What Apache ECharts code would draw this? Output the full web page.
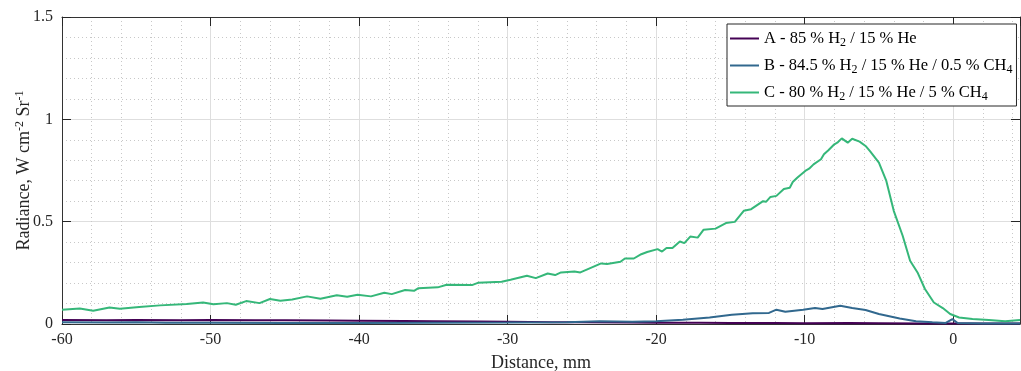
<!DOCTYPE html>
<html>
<head>
<meta charset="utf-8">
<script src="https://cdn.jsdelivr.net/npm/echarts@6/dist/echarts.min.js"></script>
<style>html,body{margin:0;padding:0;background:#fff}#c{width:1021px;height:371px}</style>
</head>
<body>
<div id="c"></div>
<script>
// ---- data ----
const seriesNames = ['A - 85 % H2 / 15 % He', 'B - 84.5 % H2 / 15 % He / 0.5 % CH4', 'C - 80 % H2 / 15 % He / 5 % CH4'];
const xTicks = [-60, -50, -40, -30, -20, -10, 0];
const yTicks = [0, 0.5, 1, 1.5];

const aX = [-60, -57, -55, -52, -50, -47, -45, -42, -40, -37, -35, -32, -30, -27, -25, -22, -20, -17, -15, -12, -10, -7, -5, -2, 0, 2, 4.5];
const aY = [0.019, 0.018, 0.019, 0.018, 0.019, 0.018, 0.018, 0.017, 0.016, 0.015, 0.014, 0.012, 0.011, 0.009, 0.008, 0.007, 0.006, 0.006, 0.005, 0.005, 0.004, 0.005, 0.004, 0.003, 0.003, 0.003, 0.003];

const bX = [-60, -57, -55, -53, -50, -45, -40, -35, -30, -26, -23.8, -21.6, -20, -18.2, -16.4, -14.9, -13.5, -12.4, -11.9, -11.3, -10.1, -9.3, -8.8, -7.6, -6.8, -5.9, -5, -3.6, -2.5, -1.4, -0.5, -0.05, 0.3, 2, 4.5];
const bY = [0.008, 0.007, 0.009, 0.006, 0.006, 0.005, 0.005, 0.006, 0.007, 0.009, 0.013, 0.011, 0.013, 0.021, 0.032, 0.045, 0.052, 0.054, 0.070, 0.060, 0.070, 0.078, 0.073, 0.089, 0.078, 0.068, 0.049, 0.027, 0.013, 0.008, 0.005, 0.024, 0.005, 0.003, 0.003];

const cX = [-60, -58.8, -57.9, -56.8, -56.1, -54.8, -53.4, -51.6, -50.5, -49.8, -48.9, -48.3, -47.6, -46.7, -46.0, -45.3, -44.5, -43.5, -42.6, -41.5, -40.8, -40.1,
  -39.2, -38.3, -37.8, -36.9, -36.3, -36.0, -34.7, -34.1, -32.4, -32.0, -30.4, -29.8, -28.7, -28.1, -27.3, -26.8, -26.4, -25.5, -25.1, -23.7, -23.3, -22.4, -22.1, -21.5, -21.0, -20.6,
  -19.9, -19.6, -19.3, -18.9, -18.4, -18.1, -17.7, -17.2, -16.8, -16.0, -15.3, -14.7, -14.1, -13.6, -12.8, -12.6, -12.3, -11.9, -11.4, -11.0, -10.8, -10.5, -9.9, -9.7, -9.4, -8.9, -8.7, -8.4, -8.0, -7.8, -7.5,
  -7.1, -6.8, -6.3, -5.9, -5.6, -5.0, -4.5, -4.0, -3.4, -2.9, -2.4, -1.9, -1.3, -0.7, -0.2, 0.4, 1.3, 2.4, 3.5, 4.5];
const cY = [0.070, 0.076, 0.065, 0.081, 0.075, 0.083, 0.091, 0.098, 0.105, 0.096, 0.102, 0.094, 0.112, 0.102, 0.122, 0.114, 0.120, 0.135, 0.123, 0.140, 0.133, 0.143,
  0.135, 0.153, 0.146, 0.166, 0.162, 0.175, 0.179, 0.192, 0.190, 0.201, 0.206, 0.216, 0.236, 0.224, 0.247, 0.239, 0.252, 0.257, 0.252, 0.296, 0.293, 0.304, 0.320, 0.320, 0.341, 0.352,
  0.366, 0.354, 0.371, 0.371, 0.403, 0.395, 0.427, 0.422, 0.461, 0.466, 0.493, 0.499, 0.553, 0.561, 0.600, 0.597, 0.621, 0.626, 0.660, 0.666, 0.694, 0.715, 0.751, 0.759, 0.780, 0.805, 0.829, 0.849, 0.878, 0.886, 0.907,
  0.886, 0.905, 0.891, 0.870, 0.845, 0.788, 0.699, 0.553, 0.431, 0.309, 0.252, 0.171, 0.105, 0.078, 0.049, 0.032, 0.024, 0.020, 0.013, 0.020];

const colors = ['#440154', '#31688e', '#35b779'];
// ---- chart ----
const zip = (xs, ys) => xs.map((x, i) => [x, ys[i]]);
const font = 'Liberation Serif';
const chart = echarts.init(document.getElementById('c'), null, {renderer: 'canvas'});

function legendFmt(name) {
  return name.replace(/H2/g, 'H{sub|2}').replace(/CH4/g, 'CH{sub|4}');
}

const axisCommon = {
  axisLine: {show: true, onZero: false, lineStyle: {color: '#333', width: 1}},
  axisTick: {show: true, inside: true, length: 9, lineStyle: {color: '#262626'}},
};

chart.setOption({
  animation: false,
  backgroundColor: '#fff',
  color: colors,
  grid: {left: 62, right: 1, top: 17, bottom: 47, containLabel: false, outerBoundsMode: 'none'},
  legend: {
    left: 727, top: 24,
    orient: 'vertical',
    icon: 'rect',
    itemWidth: 29, itemHeight: 2, itemGap: 6,
    padding: [4, 4, 3, 3],
    borderColor: '#262626', borderWidth: 1, backgroundColor: '#fff',
    data: seriesNames,
    formatter: legendFmt,
    textStyle: {
      fontFamily: font, fontSize: 16.5, color: '#000', lineHeight: 21,
      rich: {sub: {fontFamily: font, fontSize: 12, color: '#000', padding: [9, 0, 0, 0]}}
    }
  },
  xAxis: [{
    type: 'value', min: xTicks[0], max: 4.5, interval: 10, position: 'bottom',
    ...axisCommon,
    axisLabel: {fontFamily: font, fontSize: 16, color: '#262626', margin: 8, showMaxLabel: false},
    splitLine: {show: true, lineStyle: {color: '#dedede', width: 1}},
    minorTick: {show: false, splitNumber: 5},
    minorSplitLine: {show: true, lineStyle: {color: '#c8c8c8', width: 1, type: [1, 3]}},
    name: 'Distance, mm', nameLocation: 'middle', nameGap: 30, nameMoveOverlap: false,
    nameTextStyle: {fontFamily: font, fontSize: 18, color: '#262626'}
  }, {
    type: 'value', min: xTicks[0], max: 4.5, interval: 10, position: 'top',
    ...axisCommon,
    axisLabel: {show: false}, splitLine: {show: false}
  }],
  yAxis: [{
    type: 'value', min: yTicks[0], max: yTicks[yTicks.length - 1], interval: 0.5, position: 'left',
    ...axisCommon,
    axisLabel: {fontFamily: font, fontSize: 16, color: '#262626', margin: 9},
    splitLine: {show: true, lineStyle: {color: '#dedede', width: 1}},
    minorTick: {show: false, splitNumber: 5},
    minorSplitLine: {show: true, lineStyle: {color: '#c8c8c8', width: 1, type: [1, 3]}},
    name: 'Radiance, W cm{sup|-2} Sr{sup|-1}', nameLocation: 'middle', nameGap: 27, nameRotate: 90, nameMoveOverlap: false,
    nameTextStyle: {fontFamily: font, fontSize: 18, color: '#262626',
      rich: {sup: {fontFamily: font, fontSize: 12, color: '#262626', padding: [0, 0, 9, 0]}}}
  }, {
    type: 'value', min: yTicks[0], max: yTicks[yTicks.length - 1], interval: 0.5, position: 'right',
    ...axisCommon,
    axisLabel: {show: false}, splitLine: {show: false}
  }],
  series: [
    {name: seriesNames[0], type: 'line', data: zip(aX, aY), symbol: 'none', lineStyle: {width: 2, color: colors[0]}, itemStyle: {color: colors[0]}},
    {name: seriesNames[1], type: 'line', data: zip(bX, bY), symbol: 'none', lineStyle: {width: 2, color: colors[1]}, itemStyle: {color: colors[1]}},
    {name: seriesNames[2], type: 'line', data: zip(cX, cY), symbol: 'none', lineStyle: {width: 2, color: colors[2]}, itemStyle: {color: colors[2]}}
  ]
});
</script>
</body>
</html>
